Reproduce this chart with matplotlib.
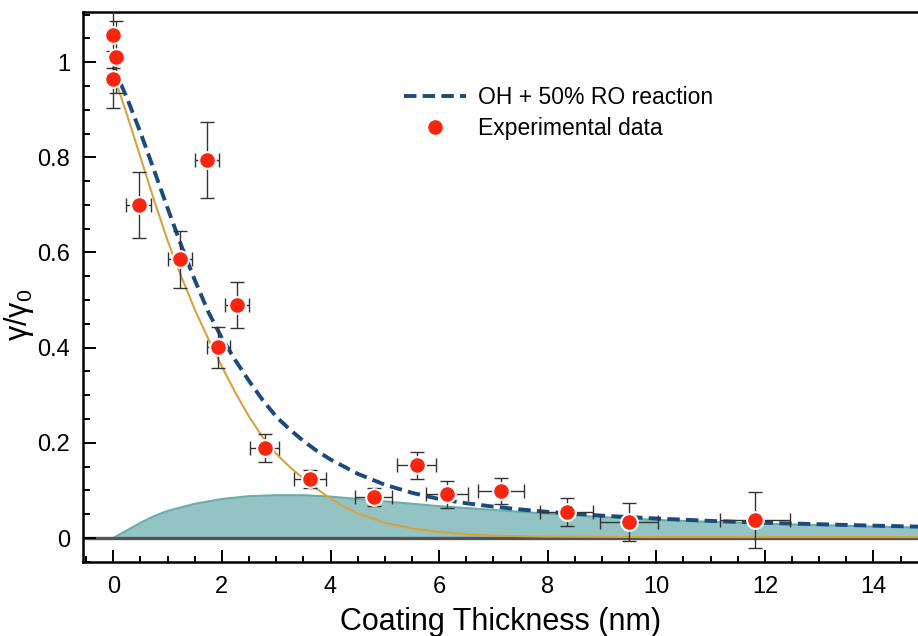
import matplotlib
matplotlib.use("Agg")
import matplotlib.pyplot as plt
from matplotlib.ticker import MultipleLocator

plt.rcParams['font.family'] = ['Liberation Sans', 'DejaVu Sans']
plt.rcParams['mathtext.fontset'] = 'custom'
plt.rcParams['mathtext.rm'] = 'Liberation Sans'
plt.rcParams['mathtext.it'] = 'Liberation Sans'

# experimental points: thickness (nm), gamma/gamma0, errors
exp_x = [0.0, 0.04, 0.0, 0.47, 1.23, 1.73, 1.93, 2.28, 2.79, 3.62,
         4.80, 5.59, 6.14, 7.14, 8.35, 9.50, 11.82]
exp_y = [1.057, 1.011, 0.964, 0.700, 0.586, 0.794, 0.401, 0.489, 0.189, 0.124,
         0.086, 0.153, 0.092, 0.099, 0.055, 0.034, 0.038]
exp_yerr = [0.07, 0.075, 0.06, 0.069, 0.060, 0.080, 0.043, 0.048, 0.030, 0.019,
            0.019, 0.028, 0.028, 0.028, 0.029, 0.040, 0.059]
exp_xerr = [0.0, 0.0, 0.0, 0.23, 0.22, 0.22, 0.21, 0.22, 0.27, 0.29,
            0.34, 0.36, 0.39, 0.42, 0.49, 0.54, 0.65]

# model curve OH + 50% RO reaction (blue dashed)
model_x = [0.0, 0.25, 0.5, 0.75, 1.0, 1.25, 1.5, 1.75, 2.0, 2.25, 2.5, 2.75,
           3.0, 3.25, 3.5, 3.75, 4.0, 4.5, 5.0, 5.5, 6.0, 6.5, 7.0, 7.5, 8.0,
           9.0, 10.0, 11.0, 12.0, 13.0, 14.0, 14.82]
model_y = [0.99, 0.925, 0.852, 0.773, 0.693, 0.615, 0.542, 0.475, 0.42, 0.373,
           0.33, 0.29, 0.255, 0.228, 0.204, 0.183, 0.165, 0.135, 0.112, 0.095,
           0.082, 0.073, 0.066, 0.060, 0.055, 0.047, 0.041, 0.036, 0.032, 0.029,
           0.026, 0.024]

# OH-only contribution (orange)
oh_x = [0.0, 0.25, 0.5, 0.75, 1.0, 1.25, 1.5, 1.75, 2.0, 2.25, 2.5, 2.75,
        3.0, 3.25, 3.5, 3.75, 4.0, 4.25, 4.5, 5.0, 5.5, 6.0, 6.5, 7.0, 8.0,
        10.0, 14.82]
oh_y = [0.975, 0.89, 0.80, 0.71, 0.625, 0.55, 0.48, 0.418, 0.36, 0.305, 0.255,
        0.212, 0.177, 0.149, 0.125, 0.103, 0.083, 0.066, 0.052, 0.032, 0.02,
        0.013, 0.008, 0.005, 0.003, 0.002, 0.002]

# RO contribution (teal area)
ro_x = [0.0, 0.25, 0.5, 0.75, 1.0, 1.5, 2.0, 2.5, 3.0, 3.5, 4.0, 4.5, 5.0, 5.5,
        6.0, 7.0, 8.0, 9.0, 10.0, 11.0, 12.0, 13.0, 14.0, 14.82]
ro_y = [0.0, 0.016, 0.032, 0.046, 0.057, 0.072, 0.082, 0.088, 0.090, 0.090, 0.087,
        0.082, 0.077, 0.072, 0.067, 0.059, 0.051, 0.044, 0.038, 0.034, 0.030, 0.027,
        0.024, 0.022]

xticks = [0, 2, 4, 6, 8, 10, 12, 14]
yticks = [0, 0.2, 0.4, 0.6, 0.8, 1.0]
ytick_labels = ["0", "0.2", "0.4", "0.6", "0.8", "1"]

fig = plt.figure(figsize=(9.18, 6.36), dpi=100)
ax = fig.add_axes([0.0901, 0.1159, 0.9099, 0.8657])

ax.fill_between(ro_x, 0, ro_y, color='#93c4c3', zorder=1)
ax.plot(ro_x, ro_y, color='#6aaeab', lw=1.5, zorder=1.2)
ax.axhline(0, color='#555555', lw=2.4, zorder=1.5)
ax.plot(oh_x, oh_y, color='#d9a23f', lw=1.5, zorder=2)
ax.plot(model_x, model_y, color='#1a4a80', lw=2.8, dashes=(3.2, 1.6), zorder=2.5,
        label='OH + 50% RO reaction')
ax.errorbar(exp_x, exp_y, yerr=exp_yerr, xerr=exp_xerr, fmt='none', ecolor='#333333',
            elinewidth=1.0, capsize=5, capthick=1.0, zorder=3)
ax.plot(exp_x, exp_y, 'o', color='#f8260e', markersize=12, markeredgecolor='white',
        markeredgewidth=1.5, zorder=4, label='Experimental data')

ax.set_xlim(-0.564, 14.82)
ax.set_ylim(-0.051, 1.106)
ax.set_xticks(xticks)
ax.set_yticks(yticks)
ax.set_yticklabels(ytick_labels)
ax.xaxis.set_minor_locator(MultipleLocator(0.5))
ax.yaxis.set_minor_locator(MultipleLocator(0.05))
ax.tick_params(which='both', direction='in', top=False, right=False, width=1.4,
               labelsize=17)
ax.tick_params(axis='x', which='major', length=8.6, pad=10)
ax.tick_params(axis='x', which='minor', length=4.3)
ax.tick_params(axis='y', which='major', length=9.4, pad=9)
ax.tick_params(axis='y', which='minor', length=5)
for s in ['left', 'bottom', 'top']:
    ax.spines[s].set_linewidth(1.8)
ax.spines['right'].set_visible(False)

ax.set_xlabel('Coating Thickness (nm)', fontsize=22, labelpad=6)
ax.set_ylabel('γ/γ$_\\mathregular{0}$', fontsize=22)
ax.yaxis.set_label_coords(-0.056, 0.45)

ax.legend(loc='upper left', bbox_to_anchor=(0.385, 0.865), frameon=False,
          fontsize=16.5, handlelength=2.7, handletextpad=0.5, labelspacing=0.35,
          borderpad=0, borderaxespad=0)

fig.savefig('out.png', dpi=100)
